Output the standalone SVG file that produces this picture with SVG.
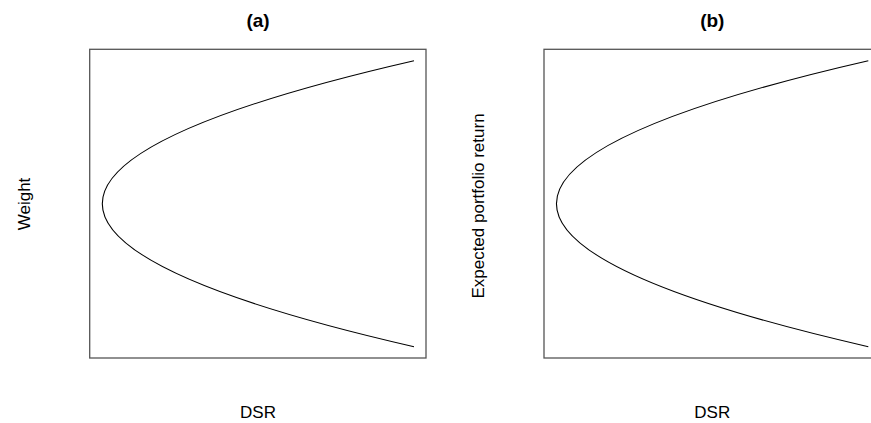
<svg xmlns="http://www.w3.org/2000/svg" width="871" height="423" viewBox="0 0 871 423">
<style>
.frame{fill:none;stroke:#555;stroke-width:1.3}
.curve{fill:none;stroke:#000;stroke-width:1.1}
.title{font-family:"Liberation Sans",Arial,sans-serif;font-weight:bold;font-size:19px;text-anchor:middle;fill:#000}
.lab{font-family:"Liberation Sans",Arial,sans-serif;font-size:17px;text-anchor:middle;fill:#000}
</style>
<rect width="871" height="423" fill="#fff"/>
<g id="panel-a">
<text class="title" x="258" y="27">(a)</text>
<rect class="frame" x="89.7" y="49.3" width="336.3" height="308.7"/>
<text class="lab" x="258" y="418">DSR</text>
<text class="lab" transform="translate(30,204) rotate(-90)">Weight</text>
</g>
<g id="panel-b">
<text class="title" x="712.3" y="27">(b)</text>
<rect class="frame" x="544" y="49.3" width="336.3" height="308.7"/>
<text class="lab" x="712.3" y="418">DSR</text>
<text class="lab" transform="translate(484,206) rotate(-90)">Expected portfolio return</text>
</g>
<g id="connectors">
<path class="curve" d="M414,60.7 Q-209.4,203.7 414,346.7"/>
<path class="curve" d="M868.3,60.7 Q244.6,203.7 868.3,346.7"/>
</g>
</svg>
